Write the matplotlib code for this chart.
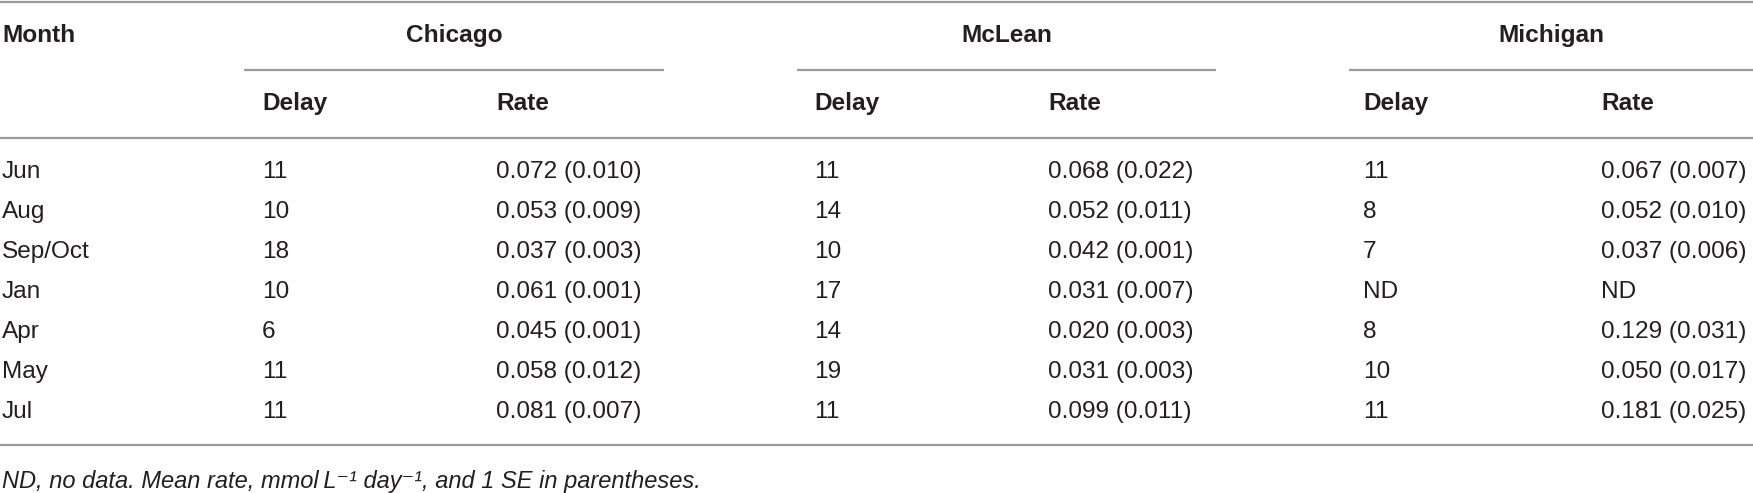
import matplotlib
matplotlib.use('Agg')
import matplotlib.pyplot as plt

months = ['Jun', 'Aug', 'Sep/Oct', 'Jan', 'Apr', 'May', 'Jul']
sites = ['Chicago', 'McLean', 'Michigan']

chicago_delay = [11, 10, 18, 10, 6, 11, 11]
chicago_rate = [0.072, 0.053, 0.037, 0.061, 0.045, 0.058, 0.081]
chicago_se = [0.010, 0.009, 0.003, 0.001, 0.001, 0.012, 0.007]

mclean_delay = [11, 14, 10, 17, 14, 19, 11]
mclean_rate = [0.068, 0.052, 0.042, 0.031, 0.020, 0.031, 0.099]
mclean_se = [0.022, 0.011, 0.001, 0.007, 0.003, 0.003, 0.011]

michigan_delay = [11, 8, 7, None, 8, 10, 11]
michigan_rate = [0.067, 0.052, 0.037, None, 0.129, 0.050, 0.181]
michigan_se = [0.007, 0.010, 0.006, None, 0.031, 0.017, 0.025]

footnote = 'ND, no data. Mean rate, mmol\u2009L\u207b\u00b9 day\u207b\u00b9, and 1 SE in parentheses.'

W, H = 1753, 493
TXT = '#231f20'
LINE = '#9a9a9a'
FAM = ['Liberation Sans', 'DejaVu Sans']
FS = 17.6

fig = plt.figure(figsize=(W / 100, H / 100), dpi=100)
ax = fig.add_axes([0, 0, 1, 1])
ax.set_xlim(0, W)
ax.set_ylim(H, 0)
ax.axis('off')

# column layout (pixels)
spans = [(244, 664), (797, 1216), (1349, W)]
delay_x = [262, 814, 1363]
rate_x = [496, 1048, 1601]
row_y0, row_dy = 178, 40

# rules
for y in (1.5, 137.5, 445):
    ax.hlines(y, 0, W, color=LINE, lw=1.6)
for x0, x1 in spans:
    ax.hlines(69.5, x0, x1, color=LINE, lw=1.6)

# header
ax.text(2, 42, 'Month', fontsize=FS, fontweight='bold', color=TXT, family=FAM, va='baseline')
for name, (x0, x1), dx, rx in zip(sites, spans, delay_x, rate_x):
    ax.text((x0 + x1) / 2, 42, name, fontsize=FS, fontweight='bold', color=TXT,
            family=FAM, ha='center', va='baseline')
    ax.text(dx, 110, 'Delay', fontsize=FS, fontweight='bold', color=TXT, family=FAM, va='baseline')
    ax.text(rx, 110, 'Rate', fontsize=FS, fontweight='bold', color=TXT, family=FAM, va='baseline')

delays = [chicago_delay, mclean_delay, michigan_delay]
rates = [chicago_rate, mclean_rate, michigan_rate]
ses = [chicago_se, mclean_se, michigan_se]

for i, m in enumerate(months):
    y = row_y0 + i * row_dy
    ax.text(2, y, m, fontsize=FS, color=TXT, family=FAM, va='baseline')
    for k in range(3):
        d = delays[k][i]
        r = rates[k][i]
        s = ses[k][i]
        d_txt = 'ND' if d is None else str(d)
        r_txt = 'ND' if r is None else f'{r:.3f} ({s:.3f})'
        ax.text(delay_x[k], y, d_txt, fontsize=FS, color=TXT, family=FAM, va='baseline')
        ax.text(rate_x[k], y, r_txt, fontsize=FS, color=TXT, family=FAM, va='baseline')

ax.text(2, 488, footnote, fontsize=17, style='italic', color=TXT, family=FAM, va='baseline')

fig.savefig('out.png', dpi=100)
